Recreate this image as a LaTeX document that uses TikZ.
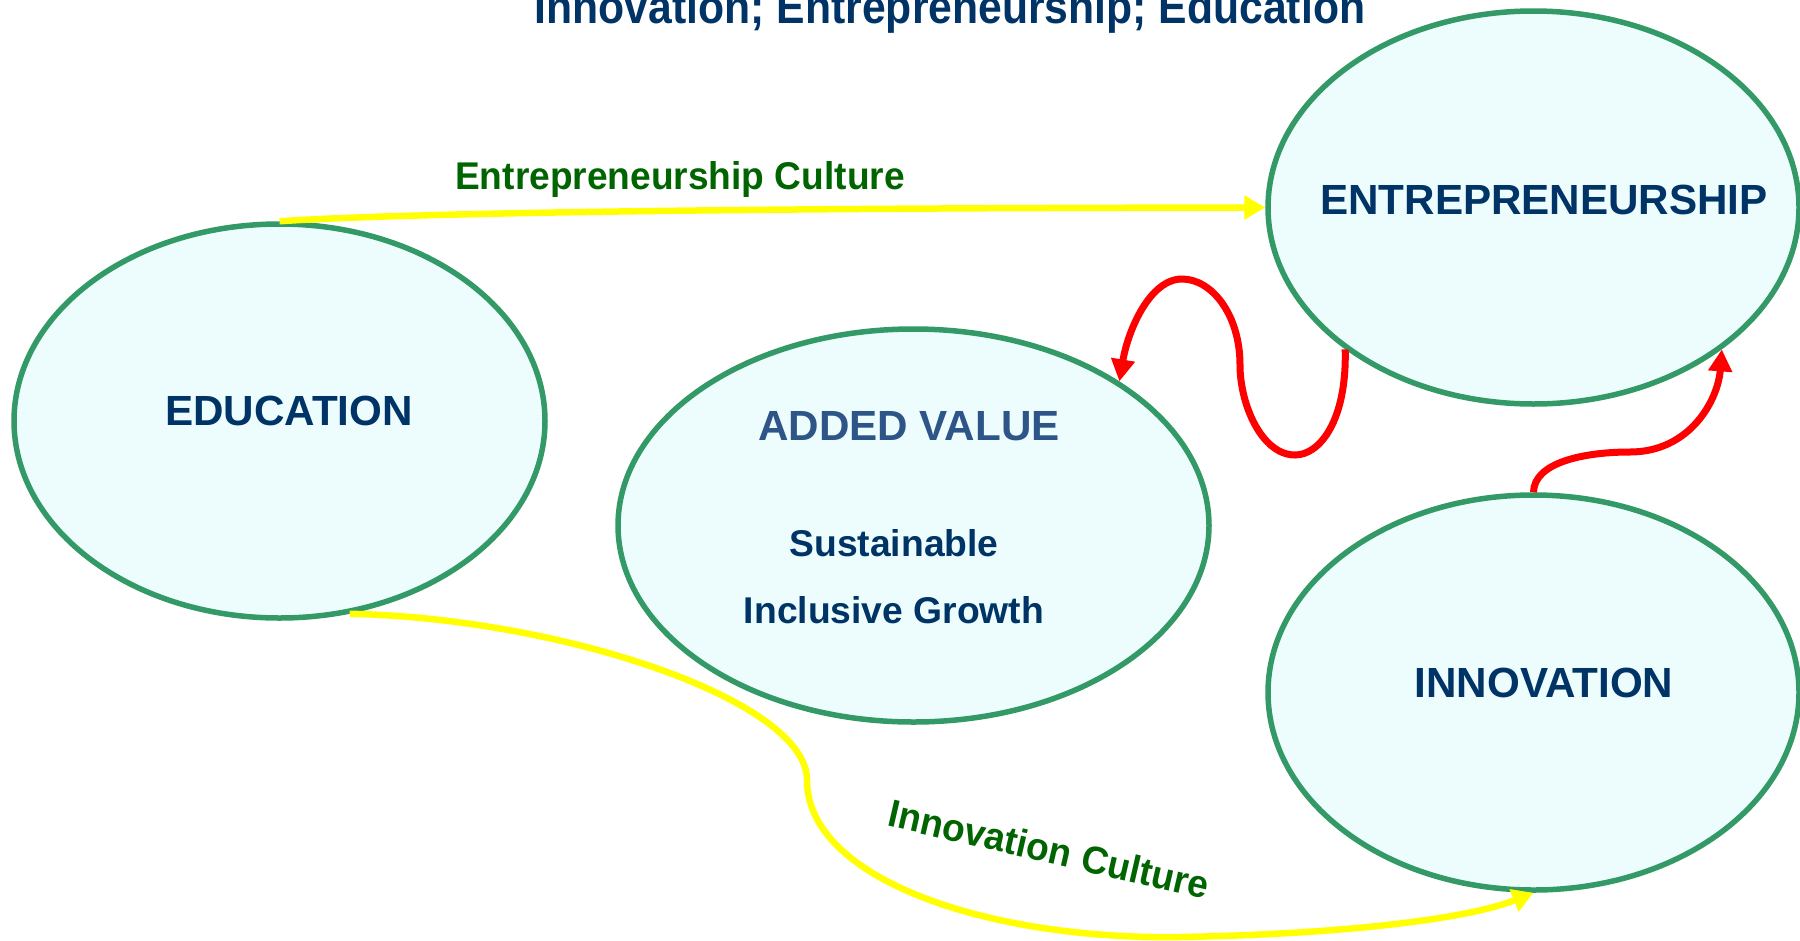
\documentclass[tikz,border=0pt]{standalone}
\usepackage{fontspec}
\setmainfont{Liberation Sans}
\usetikzlibrary{arrows.meta}
\usetikzlibrary{shapes.geometric}
\definecolor{ringgreen}{RGB}{51,153,102}
\definecolor{bubblefill}{RGB}{237,252,252}
\definecolor{titleblue}{RGB}{0,51,102}
\definecolor{valueblue}{RGB}{45,85,135}
\definecolor{labelgreen}{RGB}{0,100,0}
\definecolor{flowyellow}{RGB}{255,255,0}
\definecolor{loopred}{RGB}{255,0,0}

\begin{document}
\begin{tikzpicture}[x=0.1mm,y=-0.1mm,
    bubble/.style={ellipse,draw=ringgreen,line width=0.55mm,fill=bubblefill,inner sep=0pt},
    bigname/.style={text=titleblue,font=\fontsize{12pt}{14pt}\selectfont\bfseries},
    smallname/.style={text=titleblue,font=\fontsize{10.6pt}{12pt}\selectfont\bfseries},
    culture/.style={text=labelgreen,font=\fontsize{11pt}{13pt}\selectfont\bfseries},
    yellowflow/.style={draw=flowyellow,line width=0.65mm,-{Triangle[length=2.1mm,width=2.3mm]}},
    redloop/.style={draw=loopred,line width=0.7mm,-{Triangle[length=2.2mm,width=2.3mm]}}]%
    \useasboundingbox (0,0) rectangle (1800,940);
    % the four bubbles
    \node[bubble,minimum width=53.1mm,minimum height=39.4mm] (edu) at (279.5,421) {};
    \node[bubble,minimum width=59.1mm,minimum height=39.3mm] (add) at (913.5,525.5) {};
    \node[bubble,minimum width=53.1mm,minimum height=39.3mm] (ent) at (1533.5,207.5) {};
    \node[bubble,minimum width=53.1mm,minimum height=39.5mm] (inno) at (1533.5,692.5) {};
    % texts
    \node[anchor=base,text=titleblue,font=\fontsize{13.5pt}{15pt}\selectfont\bfseries] (heading) at (950,23)
        {\scalebox{0.9}[1]{Innovation; Entrepreneurship; Education}};
    \node[bigname] (edutext) at (289,411) {EDUCATION};
    \node[bigname] (enttext) at (1544,200) {ENTREPRENEURSHIP};
    \node[bigname] (innotext) at (1544,683) {INNOVATION};
    \node[bigname,text=valueblue] (addtext) at (909,426) {ADDED VALUE};
    \node[smallname] (sustext) at (894,543) {Sustainable};
    \node[smallname] (growtext) at (894,610) {Inclusive Growth};
    \node[culture] (entculture) at (680,180) {\scalebox{0.96}[1]{Entrepreneurship Culture}};
    \node[culture,rotate=-13] (innoculture) at (1049,849) {\scalebox{0.96}[1]{Innovation Culture}};
    % yellow flows
    \draw[yellowflow] (edu.north) .. controls (420,212) and (800,208) .. (ent.west);
    \draw[yellowflow] (edu.-70) .. controls (560,618) and (807,700) .. (807,780)
        .. controls (807,880) and (990,940) .. (1180,937)
        .. controls (1350,934) and (1470,918) .. (inno.south);
    % red loops
    \draw[redloop] (ent.217) .. controls (1347,420) and (1320,455) .. (1295,455)
        .. controls (1262,455) and (1240,405) .. (1240,365)
        .. controls (1240,315) and (1212,279) .. (1182,279)
        .. controls (1150,279) and (1128,330) .. (add.35);
    \draw[redloop] (inno.north) .. controls (1534,462) and (1585,452) .. (1630,452)
        .. controls (1690,452) and (1718,400) .. (ent.-37);
\end{tikzpicture}
\end{document}
